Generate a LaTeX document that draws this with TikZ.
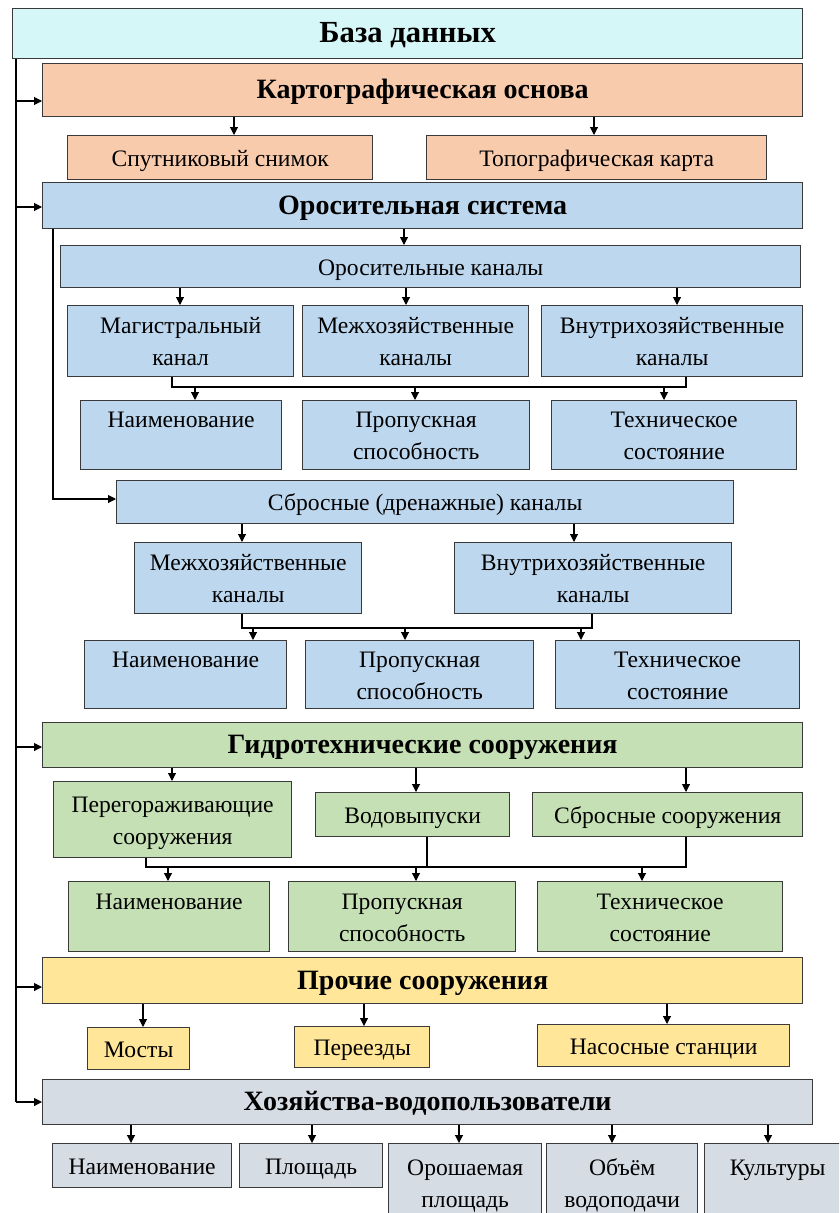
\documentclass[tikz,border=0pt]{standalone}
\usepackage{fontspec}
\setmainfont{Liberation Serif}
\usetikzlibrary{arrows.meta}
\definecolor{cdb}{HTML}{D6F7F7}
\definecolor{cpeach}{HTML}{F8CBAD}
\definecolor{cblue}{HTML}{BDD7EE}
\definecolor{cgreen}{HTML}{C5E0B4}
\definecolor{cyel}{HTML}{FFE699}
\definecolor{cgray}{HTML}{D6DCE4}
\definecolor{bordc}{HTML}{3A3A3A}
\tikzset{
  box/.style={draw=bordc, line width=1pt, inner sep=0pt, align=center, font=\fontsize{17.7}{24}\selectfont},
  hd/.style={box, font=\fontsize{21}{24}\selectfont\bfseries},
  arr/.style={draw=black, line width=0.8pt, -{Triangle[length=6pt,width=6pt]}},
  ln/.style={draw=black, line width=0.8pt},
}
% box drawn as a node, its text as a second node set a little below the centre
\newcommand\bx[7]{%
  \node[#6, anchor=north west, minimum width={(#4-#2)*0.75pt}, minimum height={(#5-#3)*0.75pt}] (#1) at (#2,#3) {};
  \node[#6, draw=none, fill=none, anchor=center] (#1-t) at ([yshift=-1.6pt]#1.center) {\strut #7\strut};}
\begin{document}
\begin{tikzpicture}[x=0.75pt,y=-0.75pt]
\useasboundingbox (0,0) rectangle (839,1213);
\clip (0,0) rectangle (839,1213);
% boxes
\bx{db}{12}{8}{802}{58}{hd, fill=cdb, font=\fontsize{23}{26}\selectfont\bfseries}{База данных}
\bx{kart}{42}{63}{802}{116}{hd, fill=cpeach}{Картографическая основа}
\bx{sput}{67}{135}{372}{179}{box, fill=cpeach}{Спутниковый снимок}
\bx{topo}{426}{135}{766}{179}{box, fill=cpeach}{Топографическая карта}
\bx{orsys}{42}{182}{802}{228}{hd, fill=cblue}{Оросительная система}
\bx{orkan}{60}{245}{800}{287}{box, fill=cblue}{Оросительные каналы}
\bx{mag}{67}{305}{293}{376}{box, fill=cblue}{Магистральный\\канал}
\bx{mezh}{302}{305}{528}{376}{box, fill=cblue}{Межхозяйственные\\каналы}
\bx{vnut}{541}{305}{802}{376}{box, fill=cblue}{Внутрихозяйственные\\каналы}
\bx{naimA}{80}{400}{281}{469}{box, fill=cblue}{Наименование\\\mbox{}}
\bx{propA}{302}{400}{529}{469}{box, fill=cblue}{Пропускная\\способность}
\bx{techA}{551}{400}{796}{469}{box, fill=cblue}{Техническое\\состояние}
\bx{sbr}{116}{480}{733}{523}{box, fill=cblue}{Сбросные (дренажные) каналы}
\bx{mezhB}{134}{542}{361}{613}{box, fill=cblue}{Межхозяйственные\\каналы}
\bx{vnutB}{454}{542}{731}{613}{box, fill=cblue}{Внутрихозяйственные\\каналы}
\bx{naimB}{84}{640}{286}{708}{box, fill=cblue}{Наименование\\\mbox{}}
\bx{propB}{305}{640}{533}{708}{box, fill=cblue}{Пропускная\\способность}
\bx{techB}{555}{640}{799}{708}{box, fill=cblue}{Техническое\\состояние}
\bx{gidro}{42}{722}{802}{767}{hd, fill=cgreen}{Гидротехнические сооружения}
\bx{pereg}{53}{781}{291}{857}{box, fill=cgreen}{Перегораживающие\\сооружения}
\bx{vodo}{315}{792}{509}{836}{box, fill=cgreen}{Водовыпуски}
\bx{sbrs}{532}{792}{802}{836}{box, fill=cgreen}{Сбросные сооружения}
\bx{naimC}{68}{881}{269}{951}{box, fill=cgreen}{Наименование\\\mbox{}}
\bx{propC}{288}{881}{515}{951}{box, fill=cgreen}{Пропускная\\способность}
\bx{techC}{537}{881}{782}{951}{box, fill=cgreen}{Техническое\\состояние}
\bx{proch}{42}{957}{802}{1003}{hd, fill=cyel}{Прочие сооружения}
\bx{most}{87}{1027}{189}{1069}{box, fill=cyel}{Мосты}
\bx{pere}{294}{1026}{429}{1067}{box, fill=cyel}{Переезды}
\bx{nas}{537}{1024}{789}{1066}{box, fill=cyel}{Насосные станции}
\bx{hoz}{42}{1079}{812}{1124}{hd, fill=cgray}{Хозяйства-водопользователи}
\bx{bA}{52}{1143}{231}{1187}{box, fill=cgray}{Наименование}
\bx{bB}{239}{1143}{382}{1187}{box, fill=cgray}{Площадь}
\bx{bC}{388}{1143}{541}{1222}{box, fill=cgray}{Орошаемая\\площадь}
\bx{bD}{546}{1143}{697}{1222}{box, fill=cgray}{Объём\\водоподачи}
\bx{bE}{704}{1143}{850}{1222}{box, fill=cgray}{Культуры\\\mbox{}}
% trunk
\coordinate (trT) at (db.south -| 16,0);
\coordinate (trB) at (16,1102);
\draw[ln] (trT) -- (trB);
\draw[arr] (trT |- 0,101) -- (kart.west |- 0,101);
\draw[arr] (trT |- 0,207) -- (orsys.west |- 0,207);
\draw[arr] (trT |- 0,747) -- (gidro.west |- 0,747);
\draw[arr] (trT |- 0,987) -- (proch.west |- 0,987);
\draw[arr] (trB) -- (hoz.west |- trB);
% cartographic
\draw[arr] (kart.south -| 234,0) -- (sput.north -| 234,0);
\draw[arr] (kart.south -| 594,0) -- (topo.north -| 594,0);
% irrigation
\draw[arr] (orsys.south -| 404,0) -- (orkan.north -| 404,0);
\draw[arr] (orkan.south -| 180,0) -- (mag.north -| 180,0);
\draw[arr] (orkan.south -| 406,0) -- (mezh.north -| 406,0);
\draw[arr] (orkan.south -| 677,0) -- (vnut.north -| 677,0);
\coordinate (busA) at (0,387);
\draw[ln] (mag.south -| 172,0) -- (busA -| 172,0) -- (busA -| 686,0) -- (vnut.south -| 686,0);
\draw[arr] (busA -| 195,0) -- (naimA.north -| 195,0);
\draw[arr] (busA -| 415,0) -- (propA.north -| 415,0);
\draw[arr] (busA -| 664,0) -- (techA.north -| 664,0);
\draw[arr] (orsys.south -| 53,0) |- (sbr.west |- 0,499);
% drainage
\draw[arr] (sbr.south -| 242,0) -- (mezhB.north -| 242,0);
\draw[arr] (sbr.south -| 574,0) -- (vnutB.north -| 574,0);
\coordinate (busB) at (0,628);
\draw[ln] (mezhB.south -| 242,0) -- (busB -| 242,0) -- (busB -| 592,0) -- (vnutB.south -| 592,0);
\draw[arr] (busB -| 253,0) -- (naimB.north -| 253,0);
\draw[arr] (busB -| 405,0) -- (propB.north -| 405,0);
\draw[arr] (busB -| 581,0) -- (techB.north -| 581,0);
% hydro
\draw[arr] (gidro.south -| 172,0) -- (pereg.north -| 172,0);
\draw[arr] (gidro.south -| 416,0) -- (vodo.north -| 416,0);
\draw[arr] (gidro.south -| 686,0) -- (sbrs.north -| 686,0);
\coordinate (busC) at (0,867);
\draw[ln] (pereg.south -| 146,0) -- (busC -| 146,0) -- (busC -| 686,0) -- (sbrs.south -| 686,0);
\draw[ln] (vodo.south -| 427,0) -- (busC -| 427,0);
\draw[arr] (busC -| 168,0) -- (naimC.north -| 168,0);
\draw[arr] (busC -| 416,0) -- (propC.north -| 416,0);
\draw[arr] (busC -| 642,0) -- (techC.north -| 642,0);
% other
\draw[arr] (proch.south -| 143,0) -- (most.north -| 143,0);
\draw[arr] (proch.south -| 364,0) -- (pere.north -| 364,0);
\draw[arr] (proch.south -| 667,0) -- (nas.north -| 667,0);
% farms
\draw[arr] (hoz.south -| 131,0) -- (bA.north -| 131,0);
\draw[arr] (hoz.south -| 312,0) -- (bB.north -| 312,0);
\draw[arr] (hoz.south -| 459,0) -- (bC.north -| 459,0);
\draw[arr] (hoz.south -| 612,0) -- (bD.north -| 612,0);
\draw[arr] (hoz.south -| 768,0) -- (bE.north -| 768,0);
\end{tikzpicture}
\end{document}
